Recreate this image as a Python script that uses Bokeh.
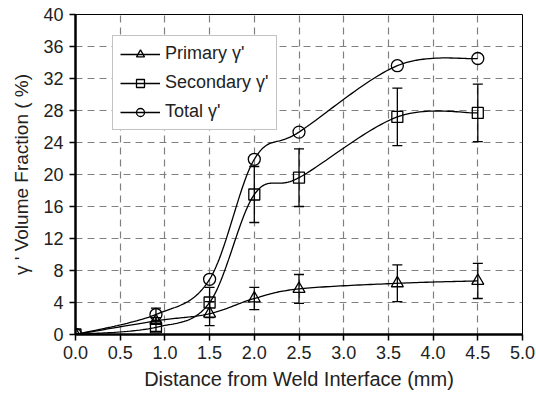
import numpy as np
from bokeh.plotting import figure
from bokeh.models import (ColumnDataSource, Whisker, TeeHead, Legend, LegendItem,
                          FixedTicker, NumeralTickFormatter)
from bokeh.embed import file_html
from bokeh.resources import INLINE

# ---- data ----
distance = [0.0, 0.9, 1.5, 2.0, 2.5, 3.6, 4.5]
primary = [0.0, 1.7, 2.6, 4.5, 5.7, 6.4, 6.7]
primary_err = [0.0, 0.4, 1.5, 1.4, 1.8, 2.3, 2.2]
secondary = [0.0, 0.9, 4.0, 17.5, 19.6, 27.2, 27.7]
secondary_err = [0.0, 0.5, 1.9, 3.5, 3.6, 3.6, 3.6]
total = [0.0, 2.5, 6.9, 21.9, 25.3, 33.6, 34.5]
total_err = [0.0, 0.8, 0.0, 0.0, 0.0, 0.0, 0.0]
x_ticks = [0.0, 0.5, 1.0, 1.5, 2.0, 2.5, 3.0, 3.5, 4.0, 4.5, 5.0]
y_ticks = [0, 4, 8, 12, 16, 20, 24, 28, 32, 36, 40]

FONT = "Liberation Sans"


def smooth(xs, ys, n=30):
    """Catmull-Rom (Excel-style smoothed line) through the data points."""
    P = np.column_stack([xs, ys]).astype(float)
    out = []
    for i in range(len(P) - 1):
        p0 = P[i - 1] if i > 0 else P[i]
        p1, p2 = P[i], P[i + 1]
        p3 = P[i + 2] if i + 2 < len(P) else P[i + 1]
        c1 = p1 + (p2 - p0) / 6.0
        c2 = p2 - (p3 - p1) / 6.0
        t = np.linspace(0, 1, n)[:, None]
        seg = ((1 - t) ** 3) * p1 + 3 * ((1 - t) ** 2) * t * c1 + 3 * (1 - t) * t * t * c2 + t ** 3 * p2
        out.append(seg if i == 0 else seg[1:])
    s = np.vstack(out)
    return s[:, 0], s[:, 1]


p = figure(width=536, height=398, output_backend="svg", toolbar_location=None,
           x_range=(0, 5), y_range=(0, 40),
           min_border_left=75, min_border_right=14, min_border_top=14, min_border_bottom=64)
p.background_fill_color = "white"
p.border_fill_color = "white"
p.outline_line_color = "black"
p.outline_line_width = 1

# grid
for g in (p.xgrid, p.ygrid):
    g.grid_line_color = "#808080"
    g.grid_line_dash = "7 5"
    g.grid_line_width = 1.2
p.xgrid.ticker = FixedTicker(ticks=x_ticks)
p.ygrid.ticker = FixedTicker(ticks=y_ticks)

# axes
p.xaxis.ticker = FixedTicker(ticks=x_ticks)
p.yaxis.ticker = FixedTicker(ticks=y_ticks)
p.xaxis.formatter = NumeralTickFormatter(format="0.0")
p.xaxis.axis_label = "Distance from Weld Interface (mm)"
p.yaxis.axis_label = "γ ' Volume Fraction ( %)"
for ax in (p.xaxis, p.yaxis):
    ax.axis_line_width = 2.5
    ax.axis_line_color = "black"
    ax.major_tick_line_color = "black"
    ax.major_tick_line_width = 1.5
    ax.major_tick_out = 6
    ax.major_tick_in = 0
    ax.minor_tick_line_color = None
    ax.major_label_text_font = FONT
    ax.major_label_text_font_size = "18px"
    ax.major_label_text_color = "#222222"
    ax.axis_label_text_font = FONT
    ax.axis_label_text_font_style = "normal"
    ax.axis_label_text_color = "#222222"
p.xaxis.axis_label_text_font_size = "20px"
p.yaxis.axis_label_text_font_size = "19px"
p.xaxis.major_label_standoff = 5
p.yaxis.major_label_standoff = 6
p.xaxis.axis_label_standoff = 6
p.yaxis.axis_label_standoff = 8

series = [
    ("Primary γ'", primary, primary_err, "triangle"),
    ("Secondary γ'", secondary, secondary_err, "square"),
    ("Total γ'", total, total_err, "circle"),
]

items = []
for label, ys, errs, marker in series:
    sx, sy = smooth(distance, ys)
    ln = p.line(sx, sy, line_color="black", line_width=1.3)
    ys_a = np.array(ys, dtype=float)
    er = np.array(errs, dtype=float)
    mask = er > 0
    src_err = ColumnDataSource(dict(x=np.array(distance)[mask], lo=(ys_a - er)[mask], hi=(ys_a + er)[mask]))
    w = Whisker(source=src_err, base="x", lower="lo", upper="hi", line_color="black", line_width=1.3,
                upper_head=TeeHead(size=10, line_color="black", line_width=1.3),
                lower_head=TeeHead(size=10, line_color="black", line_width=1.3))
    p.add_layout(w)
    size = 12 if marker != "square" else 11
    sc = p.scatter(distance, ys, marker=marker, size=size, fill_color="white", fill_alpha=0.0,
                   line_color="black", line_width=1.3)
    items.append(LegendItem(label=label, renderers=[ln, sc]))

legend = Legend(items=items, location=(37, 204))
legend.label_text_font = FONT
legend.label_text_font_size = "18px"
legend.label_text_color = "#222222"
legend.glyph_width = 40
legend.glyph_height = 20
legend.label_height = 20
legend.spacing = 8
legend.padding = 7
legend.margin = 0
legend.label_standoff = 5
legend.border_line_color = "#888888"
legend.border_line_width = 1.5
legend.background_fill_color = "white"
legend.background_fill_alpha = 1.0
p.add_layout(legend, "center")

open("out.html", "w").write(file_html(p, INLINE))
